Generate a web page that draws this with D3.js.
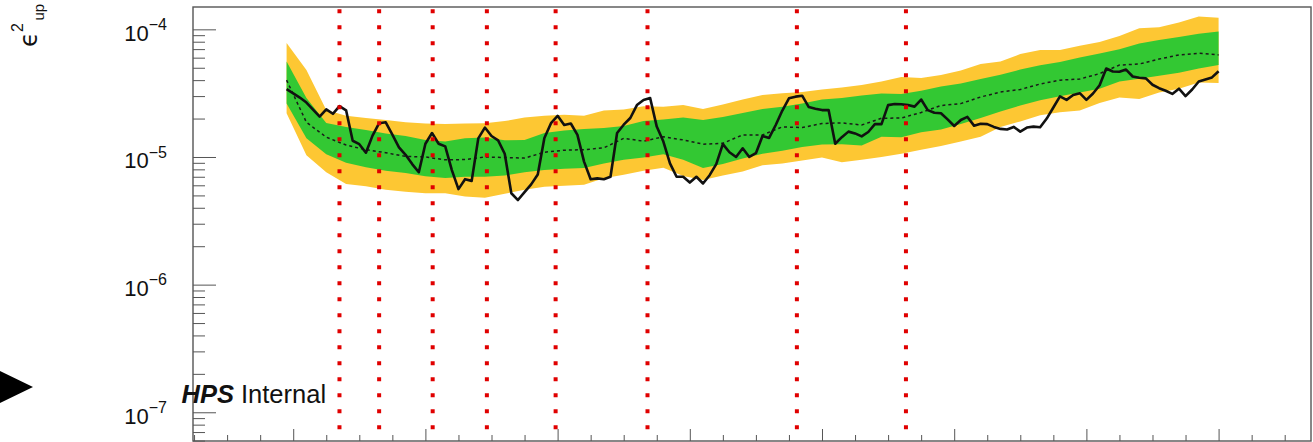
<!DOCTYPE html>
<html><head><meta charset="utf-8">
<script src="https://cdn.jsdelivr.net/npm/d3@7"></script>
<style>html,body{margin:0;padding:0;background:#fff;overflow:hidden}</style>
</head><body>
<svg id="c" width="1313" height="442"></svg>
<script>
// ---- data ----
const bandMass = [39,42,45,48,51,54,57,60,63,66,69,72,75,78,81,84,87,90,93,96,99,102,105,108,111,114,117,120,123,126,129,132,135,138,141,144,147,150,153,156,159,162,165,168,171,174,177,180];
const yellowHi = [7.8e-5,4.8e-5,2.33e-5,2.1e-5,2.02e-5,1.95e-5,1.87e-5,1.83e-5,1.81e-5,1.83e-5,1.84e-5,1.91e-5,2.04e-5,2.1e-5,2.14e-5,2.1e-5,2.31e-5,2.35e-5,2.5e-5,2.47e-5,2.55e-5,2.38e-5,2.58e-5,2.82e-5,3.06e-5,3.16e-5,3.23e-5,3.38e-5,3.5e-5,3.67e-5,3.9e-5,4.24e-5,4.16e-5,4.38e-5,4.76e-5,5.35e-5,5.6e-5,6.4e-5,6.9e-5,6.9e-5,7.45e-5,7.95e-5,8.85e-5,1.02e-4,1.04e-4,1.13e-4,1.26e-4,1.23e-4];
const greenHi = [5.6e-5,2.9e-5,1.85e-5,1.72e-5,1.63e-5,1.53e-5,1.46e-5,1.36e-5,1.32e-5,1.4e-5,1.42e-5,1.35e-5,1.36e-5,1.54e-5,1.61e-5,1.66e-5,1.69e-5,1.75e-5,1.91e-5,1.97e-5,2.04e-5,1.95e-5,2.06e-5,2.21e-5,2.38e-5,2.48e-5,2.62e-5,2.82e-5,2.9e-5,3.03e-5,3.14e-5,3.11e-5,3.31e-5,3.57e-5,3.77e-5,4.08e-5,4.4e-5,4.84e-5,5.23e-5,5.55e-5,6.02e-5,6.48e-5,6.97e-5,7.75e-5,8.25e-5,8.7e-5,9.25e-5,9.6e-5];
const expected = [4.0e-5,1.87e-5,1.43e-5,1.24e-5,1.14e-5,1.08e-5,1.01e-5,1.0e-5,9.5e-6,9.55e-6,1.0e-5,9.9e-6,9.8e-6,1.09e-5,1.13e-5,1.14e-5,1.18e-5,1.4e-5,1.33e-5,1.44e-5,1.36e-5,1.26e-5,1.28e-5,1.49e-5,1.49e-5,1.72e-5,1.7e-5,1.83e-5,1.85e-5,1.78e-5,2.01e-5,2.02e-5,2.23e-5,2.53e-5,2.62e-5,2.95e-5,3.23e-5,3.38e-5,3.73e-5,4.0e-5,4.08e-5,4.5e-5,5.25e-5,5.35e-5,5.85e-5,6.3e-5,6.5e-5,6.3e-5];
const greenLo = [2.62e-5,1.4e-5,1.05e-5,9.0e-6,8.3e-6,7.8e-6,7.5e-6,7.05e-6,6.85e-6,7.0e-6,7.0e-6,7.15e-6,7.6e-6,7.9e-6,8.1e-6,8.2e-6,8.9e-6,9.5e-6,9.9e-6,1.05e-5,9.5e-6,8.2e-6,8.8e-6,9.75e-6,1.06e-5,1.12e-5,1.2e-5,1.25e-5,1.26e-5,1.23e-5,1.44e-5,1.43e-5,1.56e-5,1.64e-5,1.81e-5,2.02e-5,2.27e-5,2.53e-5,2.78e-5,2.99e-5,3.2e-5,3.43e-5,3.9e-5,4.1e-5,4.32e-5,4.58e-5,4.93e-5,5.25e-5];
const yellowLo = [2.2e-5,1.03e-5,7.6e-6,6.15e-6,5.9e-6,5.55e-6,5.35e-6,5.2e-6,5.2e-6,4.9e-6,4.8e-6,5.15e-6,5.55e-6,5.85e-6,5.95e-6,6.05e-6,6.8e-6,7.25e-6,7.8e-6,8.25e-6,7.1e-6,6.6e-6,7.15e-6,7.7e-6,8.6e-6,8.9e-6,9.4e-6,9.9e-6,9.1e-6,9.5e-6,1.0e-5,1.06e-5,1.14e-5,1.22e-5,1.32e-5,1.44e-5,1.72e-5,1.9e-5,2.12e-5,2.24e-5,2.31e-5,2.65e-5,2.92e-5,2.85e-5,3.2e-5,3.43e-5,3.83e-5,3.8e-5];

const obsMass = [39,40,41,42,43,44,45,46,47,48,49,50,51,52,53,54,55,56,57,58,59,60,61,62,63,64,65,66,67,68,69,70,71,72,73,74,75,76,77,78,79,80,81,82,83,84,85,86,87,88,89,90,91,92,93,94,95,96,97,98,99,100,101,102,103,104,105,106,107,108,109,110,111,112,113,114,115,116,117,118,119,120,121,122,123,124,125,126,127,128,129,130,131,132,133,134,135,136,137,138,139,140,141,142,143,144,145,146,147,148,149,150,151,152,153,154,155,156,157,158,159,160,161,162,163,164,165,166,167,168,169,170,171,172,173,174,175,176,177,178,179,180];
const observed = [3.4e-5,3.15e-5,2.92e-5,2.67e-5,2.35e-5,2.07e-5,2.36e-5,2.18e-5,2.5e-5,2.32e-5,
1.34e-5,1.26e-5,1.08e-5,1.47e-5,1.84e-5,1.87e-5,1.5e-5,1.19e-5,1.04e-5,8.8e-6,
7.6e-6,1.27e-5,1.54e-5,1.27e-5,1.21e-5,7.9e-6,5.6e-6,6.7e-6,6.5e-6,1.4e-5,
1.7e-5,1.46e-5,1.35e-5,1.06e-5,5.2e-6,4.6e-6,5.3e-6,6.1e-6,7.3e-6,1.41e-5,
1.84e-5,2.1e-5,1.78e-5,1.83e-5,1.49e-5,9.2e-6,6.7e-6,6.8e-6,6.7e-6,7.0e-6,
1.54e-5,1.79e-5,2.02e-5,2.55e-5,2.8e-5,2.9e-5,1.73e-5,1.32e-5,8.9e-6,7.0e-6,
7.0e-6,6.3e-6,7.0e-6,6.2e-6,7.2e-6,8.8e-6,1.26e-5,1.09e-5,1.0e-5,1.17e-5,
1.0e-5,1.07e-5,1.46e-5,1.41e-5,1.78e-5,2.31e-5,2.88e-5,2.97e-5,3.02e-5,2.46e-5,
2.39e-5,2.33e-5,2.33e-5,1.27e-5,1.43e-5,1.58e-5,1.53e-5,1.45e-5,1.57e-5,1.81e-5,
1.81e-5,2.55e-5,2.6e-5,2.59e-5,2.55e-5,2.48e-5,2.82e-5,2.33e-5,2.22e-5,2.2e-5,
1.97e-5,1.75e-5,1.95e-5,2.06e-5,1.76e-5,1.82e-5,1.81e-5,1.72e-5,1.66e-5,1.64e-5,
1.72e-5,1.58e-5,1.7e-5,1.73e-5,1.71e-5,2.0e-5,2.44e-5,2.98e-5,2.8e-5,3.06e-5,
3.16e-5,2.8e-5,3.14e-5,3.65e-5,4.93e-5,4.67e-5,4.65e-5,4.84e-5,4.27e-5,4.18e-5,
4.13e-5,3.68e-5,3.46e-5,3.3e-5,3.12e-5,3.43e-5,3.0e-5,3.38e-5,3.9e-5,4.05e-5,
4.2e-5,4.7e-5];

const regionMass = [47, 53, 61.1, 69.3, 79.7, 93.6, 116.2, 132.7];

const xMajorTicks = [40, 60, 80, 100, 120, 140, 160, 180];
const xMinorTicks = [25,30,35,45,50,55,65,70,75,85,90,95,105,110,115,125,130,135,145,150,155,165,170,175,185,190];
const yMajorTicks = [1e-7, 1e-6, 1e-5, 1e-4];
const yTickExponents = ["\u22127", "\u22126", "\u22125", "\u22124"];

// ---- layout ----
const fx0 = 193, fx1 = 1311, fy0 = 7, fy1 = 441;
const FONT = "'Liberation Sans', Arial, Helvetica, sans-serif";
const svg = d3.select("#c");

const x = d3.scaleLinear().domain([24.84, 193.98]).range([fx0, fx1]);
const y = d3.scaleLog().domain([Math.pow(10, -7.225), Math.pow(10, -3.825)]).range([fy1, fy0]);

const band = bandMass.map((m, i) => ({m, yl: yellowLo[i], yh: yellowHi[i], gl: greenLo[i], gh: greenHi[i], e: expected[i]}));
const obs = obsMass.map((m, i) => ({m, v: observed[i]}));

svg.append("defs").append("clipPath").attr("id", "clip")
  .append("rect").attr("x", fx0).attr("y", fy0).attr("width", fx1 - fx0).attr("height", fy1 - fy0);
const plot = svg.append("g").attr("clip-path", "url(#clip)");

plot.append("path").datum(band)
  .attr("d", d3.area().x(d => x(d.m)).y0(d => y(d.yl)).y1(d => y(d.yh)))
  .attr("fill", "#fdc733");
plot.append("path").datum(band)
  .attr("d", d3.area().x(d => x(d.m)).y0(d => y(d.gl)).y1(d => y(d.gh)))
  .attr("fill", "#33c833");
plot.append("path").datum(band)
  .attr("d", d3.line().x(d => x(d.m)).y(d => y(d.e)))
  .attr("fill", "none").attr("stroke", "#1a1a1a").attr("stroke-width", 1.5)
  .attr("stroke-dasharray", "3 3");
plot.append("path").datum(obs)
  .attr("d", d3.line().x(d => x(d.m)).y(d => y(d.v)))
  .attr("fill", "none").attr("stroke", "#111").attr("stroke-width", 2.6)
  .attr("stroke-linejoin", "round");

// red dotted region lines
plot.selectAll("line.reg").data(regionMass).enter().append("line")
  .attr("x1", d => x(d)).attr("x2", d => x(d))
  .attr("y1", fy0 + 2.3).attr("y2", fy1 + 4)
  .attr("stroke", "#e00000").attr("stroke-width", 4)
  .attr("stroke-dasharray", "4 12");

// axes (ticks inside the frame)
const axCol = "#555";
function styleAxis(g) {
  g.select(".domain").remove();
  g.selectAll(".tick line").attr("stroke", axCol).attr("stroke-width", 1);
  g.selectAll(".tick text").remove();
}
svg.append("g").attr("transform", `translate(0,${fy1})`)
  .call(d3.axisBottom(x).tickValues(xMajorTicks).tickSize(-12).tickFormat("")).call(styleAxis);
svg.append("g").attr("transform", `translate(0,${fy1})`)
  .call(d3.axisBottom(x).tickValues(xMinorTicks).tickSize(-6).tickFormat("")).call(styleAxis);

const yMinor = y.ticks().filter(v => !yMajorTicks.some(t => Math.abs(t - v) / t < 1e-6));
svg.append("g").attr("transform", `translate(${fx0},0)`)
  .call(d3.axisLeft(y).tickValues(yMajorTicks).tickSize(-23).tickFormat("")).call(styleAxis);
svg.append("g").attr("transform", `translate(${fx0},0)`)
  .call(d3.axisLeft(y).tickValues(yMinor).tickSize(-12).tickFormat("")).call(styleAxis);

// frame
svg.append("rect").attr("x", fx0).attr("y", fy0).attr("width", fx1 - fx0).attr("height", fy1 - fy0)
  .attr("fill", "none").attr("stroke", axCol).attr("stroke-width", 1.4);

// y tick labels
yMajorTicks.forEach((v, i) => {
  const t = svg.append("text").attr("x", 167).attr("y", y(v) + 11.4)
    .attr("text-anchor", "end").style("font-family", FONT).style("font-size", "22px").attr("fill", "#111");
  t.append("tspan").text("10");
  t.append("tspan").attr("dy", -10.7).style("font-size", "16px").text(yTickExponents[i]);
});

// y axis title
const yt = svg.append("g").attr("transform", "translate(36.7,0) rotate(-90)")
  .style("font-family", "'DejaVu Sans', " + FONT).attr("fill", "#111");
yt.append("text").attr("x", -47).attr("y", 0).style("font-size", "24px").text("\u03F5");
yt.append("text").attr("x", -32).attr("y", -13.5).style("font-family", FONT).style("font-size", "16px").text("2");
yt.append("text").attr("x", -20.5).attr("y", 7).style("font-family", FONT).style("font-size", "15px").text("up");

// label
const lab = svg.append("text").attr("x", 181.5).attr("y", 403)
  .style("font-family", FONT).style("font-size", "25.5px").attr("fill", "#111");
lab.append("tspan").style("font-weight", "bold").style("font-style", "italic").text("HPS");
lab.append("tspan").text(" Internal");

// arrow marker at left
svg.append("path").attr("d", d3.line()([[0, 371], [33, 387], [0, 403]]) + "Z").attr("fill", "#000");
</script>
</body></html>
